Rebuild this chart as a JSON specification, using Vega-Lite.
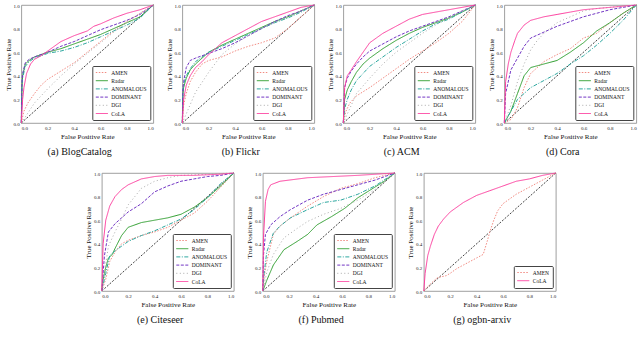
{
"$schema": "https://vega.github.io/schema/vega-lite/v6.json",
"padding": {"left": 3, "top": 2, "right": 0, "bottom": 0},
"datasets": {
"diag": [{"x":0,"y":0},{"x":1,"y":1}],
"a": [
{"m":"AMEN","x":0,"y":0},{"m":"AMEN","x":0.02,"y":0.1},{"m":"AMEN","x":0.05,"y":0.17},{"m":"AMEN","x":0.1,"y":0.25},{"m":"AMEN","x":0.15,"y":0.32},{"m":"AMEN","x":0.2,"y":0.37},{"m":"AMEN","x":0.3,"y":0.44},{"m":"AMEN","x":0.4,"y":0.51},{"m":"AMEN","x":0.5,"y":0.6},{"m":"AMEN","x":0.6,"y":0.69},{"m":"AMEN","x":0.7,"y":0.78},{"m":"AMEN","x":0.8,"y":0.86},{"m":"AMEN","x":0.9,"y":0.93},{"m":"AMEN","x":1,"y":1},
{"m":"Radar","x":0,"y":0},{"m":"Radar","x":0.005,"y":0.3},{"m":"Radar","x":0.01,"y":0.4},{"m":"Radar","x":0.03,"y":0.5},{"m":"Radar","x":0.06,"y":0.53},{"m":"Radar","x":0.1,"y":0.56},{"m":"Radar","x":0.2,"y":0.6},{"m":"Radar","x":0.3,"y":0.63},{"m":"Radar","x":0.4,"y":0.67},{"m":"Radar","x":0.5,"y":0.71},{"m":"Radar","x":0.6,"y":0.75},{"m":"Radar","x":0.7,"y":0.8},{"m":"Radar","x":0.8,"y":0.85},{"m":"Radar","x":0.9,"y":0.9},{"m":"Radar","x":1,"y":1},
{"m":"ANOMALOUS","x":0,"y":0},{"m":"ANOMALOUS","x":0.005,"y":0.3},{"m":"ANOMALOUS","x":0.01,"y":0.38},{"m":"ANOMALOUS","x":0.03,"y":0.48},{"m":"ANOMALOUS","x":0.06,"y":0.52},{"m":"ANOMALOUS","x":0.1,"y":0.55},{"m":"ANOMALOUS","x":0.2,"y":0.59},{"m":"ANOMALOUS","x":0.3,"y":0.61},{"m":"ANOMALOUS","x":0.4,"y":0.64},{"m":"ANOMALOUS","x":0.5,"y":0.68},{"m":"ANOMALOUS","x":0.6,"y":0.73},{"m":"ANOMALOUS","x":0.7,"y":0.78},{"m":"ANOMALOUS","x":0.8,"y":0.83},{"m":"ANOMALOUS","x":0.9,"y":0.89},{"m":"ANOMALOUS","x":1,"y":1},
{"m":"DOMINANT","x":0,"y":0},{"m":"DOMINANT","x":0.005,"y":0.35},{"m":"DOMINANT","x":0.01,"y":0.42},{"m":"DOMINANT","x":0.03,"y":0.51},{"m":"DOMINANT","x":0.06,"y":0.54},{"m":"DOMINANT","x":0.1,"y":0.56},{"m":"DOMINANT","x":0.2,"y":0.6},{"m":"DOMINANT","x":0.3,"y":0.65},{"m":"DOMINANT","x":0.4,"y":0.69},{"m":"DOMINANT","x":0.5,"y":0.74},{"m":"DOMINANT","x":0.6,"y":0.79},{"m":"DOMINANT","x":0.7,"y":0.83},{"m":"DOMINANT","x":0.8,"y":0.87},{"m":"DOMINANT","x":0.9,"y":0.92},{"m":"DOMINANT","x":1,"y":1},
{"m":"DGI","x":0,"y":0},{"m":"DGI","x":0.1,"y":0.17},{"m":"DGI","x":0.2,"y":0.29},{"m":"DGI","x":0.3,"y":0.4},{"m":"DGI","x":0.4,"y":0.5},{"m":"DGI","x":0.5,"y":0.59},{"m":"DGI","x":0.6,"y":0.68},{"m":"DGI","x":0.7,"y":0.77},{"m":"DGI","x":0.8,"y":0.85},{"m":"DGI","x":0.9,"y":0.93},{"m":"DGI","x":1,"y":1},
{"m":"CoLA","x":0,"y":0},{"m":"CoLA","x":0.01,"y":0.2},{"m":"CoLA","x":0.02,"y":0.3},{"m":"CoLA","x":0.04,"y":0.42},{"m":"CoLA","x":0.07,"y":0.5},{"m":"CoLA","x":0.1,"y":0.54},{"m":"CoLA","x":0.15,"y":0.57},{"m":"CoLA","x":0.2,"y":0.61},{"m":"CoLA","x":0.25,"y":0.65},{"m":"CoLA","x":0.3,"y":0.69},{"m":"CoLA","x":0.4,"y":0.74},{"m":"CoLA","x":0.5,"y":0.78},{"m":"CoLA","x":0.55,"y":0.82},{"m":"CoLA","x":0.6,"y":0.84},{"m":"CoLA","x":0.7,"y":0.89},{"m":"CoLA","x":0.8,"y":0.93},{"m":"CoLA","x":0.9,"y":0.96},{"m":"CoLA","x":1,"y":1}
],
"b": [
{"m":"AMEN","x":0,"y":0},{"m":"AMEN","x":0.01,"y":0.15},{"m":"AMEN","x":0.03,"y":0.25},{"m":"AMEN","x":0.06,"y":0.35},{"m":"AMEN","x":0.1,"y":0.43},{"m":"AMEN","x":0.15,"y":0.5},{"m":"AMEN","x":0.2,"y":0.53},{"m":"AMEN","x":0.3,"y":0.56},{"m":"AMEN","x":0.4,"y":0.61},{"m":"AMEN","x":0.5,"y":0.65},{"m":"AMEN","x":0.6,"y":0.68},{"m":"AMEN","x":0.7,"y":0.72},{"m":"AMEN","x":0.8,"y":0.8},{"m":"AMEN","x":0.9,"y":0.9},{"m":"AMEN","x":1,"y":1},
{"m":"Radar","x":0,"y":0},{"m":"Radar","x":0.005,"y":0.25},{"m":"Radar","x":0.01,"y":0.3},{"m":"Radar","x":0.03,"y":0.38},{"m":"Radar","x":0.06,"y":0.45},{"m":"Radar","x":0.1,"y":0.5},{"m":"Radar","x":0.2,"y":0.6},{"m":"Radar","x":0.3,"y":0.66},{"m":"Radar","x":0.4,"y":0.71},{"m":"Radar","x":0.5,"y":0.76},{"m":"Radar","x":0.6,"y":0.81},{"m":"Radar","x":0.7,"y":0.86},{"m":"Radar","x":0.8,"y":0.9},{"m":"Radar","x":0.9,"y":0.95},{"m":"Radar","x":1,"y":1},
{"m":"ANOMALOUS","x":0,"y":0},{"m":"ANOMALOUS","x":0.005,"y":0.28},{"m":"ANOMALOUS","x":0.01,"y":0.33},{"m":"ANOMALOUS","x":0.03,"y":0.4},{"m":"ANOMALOUS","x":0.06,"y":0.46},{"m":"ANOMALOUS","x":0.1,"y":0.52},{"m":"ANOMALOUS","x":0.2,"y":0.6},{"m":"ANOMALOUS","x":0.3,"y":0.65},{"m":"ANOMALOUS","x":0.4,"y":0.7},{"m":"ANOMALOUS","x":0.5,"y":0.75},{"m":"ANOMALOUS","x":0.6,"y":0.8},{"m":"ANOMALOUS","x":0.7,"y":0.85},{"m":"ANOMALOUS","x":0.8,"y":0.89},{"m":"ANOMALOUS","x":0.9,"y":0.94},{"m":"ANOMALOUS","x":1,"y":1},
{"m":"DOMINANT","x":0,"y":0},{"m":"DOMINANT","x":0.005,"y":0.3},{"m":"DOMINANT","x":0.01,"y":0.35},{"m":"DOMINANT","x":0.03,"y":0.47},{"m":"DOMINANT","x":0.06,"y":0.53},{"m":"DOMINANT","x":0.1,"y":0.55},{"m":"DOMINANT","x":0.2,"y":0.59},{"m":"DOMINANT","x":0.3,"y":0.63},{"m":"DOMINANT","x":0.4,"y":0.68},{"m":"DOMINANT","x":0.5,"y":0.74},{"m":"DOMINANT","x":0.6,"y":0.8},{"m":"DOMINANT","x":0.7,"y":0.86},{"m":"DOMINANT","x":0.8,"y":0.91},{"m":"DOMINANT","x":0.9,"y":0.95},{"m":"DOMINANT","x":1,"y":1},
{"m":"DGI","x":0,"y":0},{"m":"DGI","x":0.1,"y":0.26},{"m":"DGI","x":0.2,"y":0.43},{"m":"DGI","x":0.3,"y":0.58},{"m":"DGI","x":0.4,"y":0.67},{"m":"DGI","x":0.5,"y":0.74},{"m":"DGI","x":0.6,"y":0.8},{"m":"DGI","x":0.7,"y":0.85},{"m":"DGI","x":0.8,"y":0.9},{"m":"DGI","x":0.9,"y":0.95},{"m":"DGI","x":1,"y":1},
{"m":"CoLA","x":0,"y":0},{"m":"CoLA","x":0.01,"y":0.2},{"m":"CoLA","x":0.03,"y":0.32},{"m":"CoLA","x":0.06,"y":0.4},{"m":"CoLA","x":0.1,"y":0.47},{"m":"CoLA","x":0.15,"y":0.52},{"m":"CoLA","x":0.2,"y":0.58},{"m":"CoLA","x":0.25,"y":0.63},{"m":"CoLA","x":0.3,"y":0.68},{"m":"CoLA","x":0.4,"y":0.74},{"m":"CoLA","x":0.5,"y":0.8},{"m":"CoLA","x":0.6,"y":0.86},{"m":"CoLA","x":0.7,"y":0.9},{"m":"CoLA","x":0.8,"y":0.94},{"m":"CoLA","x":0.9,"y":0.98},{"m":"CoLA","x":1,"y":1}
],
"c": [
{"m":"AMEN","x":0,"y":0},{"m":"AMEN","x":0.02,"y":0.1},{"m":"AMEN","x":0.05,"y":0.17},{"m":"AMEN","x":0.1,"y":0.23},{"m":"AMEN","x":0.2,"y":0.3},{"m":"AMEN","x":0.3,"y":0.38},{"m":"AMEN","x":0.4,"y":0.46},{"m":"AMEN","x":0.5,"y":0.54},{"m":"AMEN","x":0.6,"y":0.61},{"m":"AMEN","x":0.7,"y":0.68},{"m":"AMEN","x":0.8,"y":0.76},{"m":"AMEN","x":0.9,"y":0.86},{"m":"AMEN","x":1,"y":1},
{"m":"Radar","x":0,"y":0},{"m":"Radar","x":0.01,"y":0.2},{"m":"Radar","x":0.03,"y":0.28},{"m":"Radar","x":0.06,"y":0.35},{"m":"Radar","x":0.1,"y":0.43},{"m":"Radar","x":0.15,"y":0.5},{"m":"Radar","x":0.2,"y":0.55},{"m":"Radar","x":0.3,"y":0.63},{"m":"Radar","x":0.4,"y":0.7},{"m":"Radar","x":0.5,"y":0.76},{"m":"Radar","x":0.6,"y":0.81},{"m":"Radar","x":0.7,"y":0.85},{"m":"Radar","x":0.8,"y":0.89},{"m":"Radar","x":0.9,"y":0.94},{"m":"Radar","x":1,"y":1},
{"m":"ANOMALOUS","x":0,"y":0},{"m":"ANOMALOUS","x":0.01,"y":0.12},{"m":"ANOMALOUS","x":0.03,"y":0.2},{"m":"ANOMALOUS","x":0.06,"y":0.28},{"m":"ANOMALOUS","x":0.1,"y":0.36},{"m":"ANOMALOUS","x":0.15,"y":0.42},{"m":"ANOMALOUS","x":0.2,"y":0.48},{"m":"ANOMALOUS","x":0.3,"y":0.56},{"m":"ANOMALOUS","x":0.4,"y":0.64},{"m":"ANOMALOUS","x":0.5,"y":0.71},{"m":"ANOMALOUS","x":0.6,"y":0.78},{"m":"ANOMALOUS","x":0.7,"y":0.84},{"m":"ANOMALOUS","x":0.8,"y":0.88},{"m":"ANOMALOUS","x":0.9,"y":0.94},{"m":"ANOMALOUS","x":1,"y":1},
{"m":"DOMINANT","x":0,"y":0},{"m":"DOMINANT","x":0.01,"y":0.3},{"m":"DOMINANT","x":0.03,"y":0.38},{"m":"DOMINANT","x":0.06,"y":0.44},{"m":"DOMINANT","x":0.1,"y":0.5},{"m":"DOMINANT","x":0.15,"y":0.56},{"m":"DOMINANT","x":0.2,"y":0.61},{"m":"DOMINANT","x":0.3,"y":0.67},{"m":"DOMINANT","x":0.4,"y":0.73},{"m":"DOMINANT","x":0.5,"y":0.78},{"m":"DOMINANT","x":0.6,"y":0.82},{"m":"DOMINANT","x":0.7,"y":0.86},{"m":"DOMINANT","x":0.8,"y":0.9},{"m":"DOMINANT","x":0.9,"y":0.95},{"m":"DOMINANT","x":1,"y":1},
{"m":"DGI","x":0,"y":0},{"m":"DGI","x":0.1,"y":0.25},{"m":"DGI","x":0.2,"y":0.38},{"m":"DGI","x":0.3,"y":0.5},{"m":"DGI","x":0.4,"y":0.6},{"m":"DGI","x":0.5,"y":0.68},{"m":"DGI","x":0.6,"y":0.76},{"m":"DGI","x":0.7,"y":0.83},{"m":"DGI","x":0.8,"y":0.89},{"m":"DGI","x":0.9,"y":0.95},{"m":"DGI","x":1,"y":1},
{"m":"CoLA","x":0,"y":0},{"m":"CoLA","x":0.01,"y":0.3},{"m":"CoLA","x":0.03,"y":0.4},{"m":"CoLA","x":0.06,"y":0.45},{"m":"CoLA","x":0.1,"y":0.52},{"m":"CoLA","x":0.15,"y":0.6},{"m":"CoLA","x":0.2,"y":0.68},{"m":"CoLA","x":0.25,"y":0.72},{"m":"CoLA","x":0.3,"y":0.76},{"m":"CoLA","x":0.4,"y":0.82},{"m":"CoLA","x":0.5,"y":0.88},{"m":"CoLA","x":0.6,"y":0.92},{"m":"CoLA","x":0.7,"y":0.94},{"m":"CoLA","x":0.8,"y":0.96},{"m":"CoLA","x":0.9,"y":0.98},{"m":"CoLA","x":1,"y":1}
],
"d": [
{"m":"AMEN","x":0,"y":0},{"m":"AMEN","x":0.05,"y":0.03},{"m":"AMEN","x":0.1,"y":0.13},{"m":"AMEN","x":0.15,"y":0.3},{"m":"AMEN","x":0.2,"y":0.42},{"m":"AMEN","x":0.3,"y":0.52},{"m":"AMEN","x":0.4,"y":0.58},{"m":"AMEN","x":0.5,"y":0.63},{"m":"AMEN","x":0.6,"y":0.72},{"m":"AMEN","x":0.7,"y":0.76},{"m":"AMEN","x":0.8,"y":0.85},{"m":"AMEN","x":0.9,"y":0.93},{"m":"AMEN","x":1,"y":1},
{"m":"Radar","x":0,"y":0},{"m":"Radar","x":0.05,"y":0.1},{"m":"Radar","x":0.1,"y":0.25},{"m":"Radar","x":0.15,"y":0.4},{"m":"Radar","x":0.2,"y":0.47},{"m":"Radar","x":0.3,"y":0.5},{"m":"Radar","x":0.4,"y":0.53},{"m":"Radar","x":0.5,"y":0.6},{"m":"Radar","x":0.6,"y":0.68},{"m":"Radar","x":0.7,"y":0.78},{"m":"Radar","x":0.8,"y":0.85},{"m":"Radar","x":0.9,"y":0.93},{"m":"Radar","x":1,"y":1},
{"m":"ANOMALOUS","x":0,"y":0},{"m":"ANOMALOUS","x":0.05,"y":0.1},{"m":"ANOMALOUS","x":0.1,"y":0.2},{"m":"ANOMALOUS","x":0.2,"y":0.3},{"m":"ANOMALOUS","x":0.3,"y":0.36},{"m":"ANOMALOUS","x":0.4,"y":0.42},{"m":"ANOMALOUS","x":0.5,"y":0.5},{"m":"ANOMALOUS","x":0.6,"y":0.57},{"m":"ANOMALOUS","x":0.7,"y":0.66},{"m":"ANOMALOUS","x":0.8,"y":0.76},{"m":"ANOMALOUS","x":0.9,"y":0.87},{"m":"ANOMALOUS","x":1,"y":1},
{"m":"DOMINANT","x":0,"y":0},{"m":"DOMINANT","x":0.01,"y":0.25},{"m":"DOMINANT","x":0.05,"y":0.45},{"m":"DOMINANT","x":0.1,"y":0.55},{"m":"DOMINANT","x":0.15,"y":0.65},{"m":"DOMINANT","x":0.2,"y":0.72},{"m":"DOMINANT","x":0.3,"y":0.77},{"m":"DOMINANT","x":0.4,"y":0.82},{"m":"DOMINANT","x":0.5,"y":0.86},{"m":"DOMINANT","x":0.6,"y":0.9},{"m":"DOMINANT","x":0.7,"y":0.93},{"m":"DOMINANT","x":0.8,"y":0.96},{"m":"DOMINANT","x":0.9,"y":0.98},{"m":"DOMINANT","x":1,"y":1},
{"m":"DGI","x":0,"y":0},{"m":"DGI","x":0.05,"y":0.15},{"m":"DGI","x":0.1,"y":0.35},{"m":"DGI","x":0.15,"y":0.5},{"m":"DGI","x":0.2,"y":0.62},{"m":"DGI","x":0.25,"y":0.7},{"m":"DGI","x":0.3,"y":0.76},{"m":"DGI","x":0.4,"y":0.85},{"m":"DGI","x":0.5,"y":0.9},{"m":"DGI","x":0.6,"y":0.95},{"m":"DGI","x":0.7,"y":0.97},{"m":"DGI","x":0.8,"y":0.98},{"m":"DGI","x":1,"y":1},
{"m":"CoLA","x":0,"y":0},{"m":"CoLA","x":0.01,"y":0.35},{"m":"CoLA","x":0.03,"y":0.5},{"m":"CoLA","x":0.05,"y":0.6},{"m":"CoLA","x":0.08,"y":0.7},{"m":"CoLA","x":0.1,"y":0.76},{"m":"CoLA","x":0.15,"y":0.83},{"m":"CoLA","x":0.2,"y":0.87},{"m":"CoLA","x":0.3,"y":0.9},{"m":"CoLA","x":0.4,"y":0.92},{"m":"CoLA","x":0.5,"y":0.94},{"m":"CoLA","x":0.6,"y":0.96},{"m":"CoLA","x":0.7,"y":0.97},{"m":"CoLA","x":0.8,"y":0.98},{"m":"CoLA","x":0.9,"y":0.99},{"m":"CoLA","x":1,"y":1}
],
"e": [
{"m":"AMEN","x":0,"y":0},{"m":"AMEN","x":0.03,"y":0.1},{"m":"AMEN","x":0.06,"y":0.25},{"m":"AMEN","x":0.1,"y":0.33},{"m":"AMEN","x":0.15,"y":0.4},{"m":"AMEN","x":0.2,"y":0.43},{"m":"AMEN","x":0.3,"y":0.47},{"m":"AMEN","x":0.4,"y":0.5},{"m":"AMEN","x":0.5,"y":0.54},{"m":"AMEN","x":0.6,"y":0.6},{"m":"AMEN","x":0.7,"y":0.66},{"m":"AMEN","x":0.8,"y":0.76},{"m":"AMEN","x":0.9,"y":0.88},{"m":"AMEN","x":1,"y":1},
{"m":"Radar","x":0,"y":0},{"m":"Radar","x":0.01,"y":0.1},{"m":"Radar","x":0.03,"y":0.2},{"m":"Radar","x":0.05,"y":0.28},{"m":"Radar","x":0.08,"y":0.31},{"m":"Radar","x":0.1,"y":0.36},{"m":"Radar","x":0.15,"y":0.47},{"m":"Radar","x":0.2,"y":0.54},{"m":"Radar","x":0.3,"y":0.58},{"m":"Radar","x":0.4,"y":0.6},{"m":"Radar","x":0.5,"y":0.62},{"m":"Radar","x":0.6,"y":0.65},{"m":"Radar","x":0.7,"y":0.71},{"m":"Radar","x":0.8,"y":0.79},{"m":"Radar","x":0.9,"y":0.89},{"m":"Radar","x":1,"y":1},
{"m":"ANOMALOUS","x":0,"y":0},{"m":"ANOMALOUS","x":0.03,"y":0.15},{"m":"ANOMALOUS","x":0.06,"y":0.3},{"m":"ANOMALOUS","x":0.1,"y":0.34},{"m":"ANOMALOUS","x":0.15,"y":0.38},{"m":"ANOMALOUS","x":0.2,"y":0.42},{"m":"ANOMALOUS","x":0.3,"y":0.47},{"m":"ANOMALOUS","x":0.4,"y":0.51},{"m":"ANOMALOUS","x":0.5,"y":0.56},{"m":"ANOMALOUS","x":0.6,"y":0.61},{"m":"ANOMALOUS","x":0.7,"y":0.69},{"m":"ANOMALOUS","x":0.8,"y":0.79},{"m":"ANOMALOUS","x":0.9,"y":0.91},{"m":"ANOMALOUS","x":1,"y":1},
{"m":"DOMINANT","x":0,"y":0},{"m":"DOMINANT","x":0.02,"y":0.3},{"m":"DOMINANT","x":0.05,"y":0.5},{"m":"DOMINANT","x":0.1,"y":0.57},{"m":"DOMINANT","x":0.15,"y":0.62},{"m":"DOMINANT","x":0.2,"y":0.67},{"m":"DOMINANT","x":0.3,"y":0.74},{"m":"DOMINANT","x":0.4,"y":0.84},{"m":"DOMINANT","x":0.5,"y":0.89},{"m":"DOMINANT","x":0.6,"y":0.93},{"m":"DOMINANT","x":0.7,"y":0.95},{"m":"DOMINANT","x":0.8,"y":0.97},{"m":"DOMINANT","x":0.9,"y":0.98},{"m":"DOMINANT","x":1,"y":1},
{"m":"DGI","x":0,"y":0},{"m":"DGI","x":0.05,"y":0.38},{"m":"DGI","x":0.1,"y":0.5},{"m":"DGI","x":0.15,"y":0.61},{"m":"DGI","x":0.2,"y":0.73},{"m":"DGI","x":0.25,"y":0.8},{"m":"DGI","x":0.3,"y":0.87},{"m":"DGI","x":0.4,"y":0.93},{"m":"DGI","x":0.5,"y":0.96},{"m":"DGI","x":0.6,"y":0.98},{"m":"DGI","x":0.8,"y":0.99},{"m":"DGI","x":1,"y":1},
{"m":"CoLA","x":0,"y":0},{"m":"CoLA","x":0.01,"y":0.4},{"m":"CoLA","x":0.03,"y":0.6},{"m":"CoLA","x":0.06,"y":0.72},{"m":"CoLA","x":0.1,"y":0.8},{"m":"CoLA","x":0.15,"y":0.86},{"m":"CoLA","x":0.2,"y":0.9},{"m":"CoLA","x":0.3,"y":0.95},{"m":"CoLA","x":0.4,"y":0.97},{"m":"CoLA","x":0.5,"y":0.98},{"m":"CoLA","x":0.7,"y":0.98},{"m":"CoLA","x":0.9,"y":0.99},{"m":"CoLA","x":1,"y":1}
],
"f": [
{"m":"AMEN","x":0,"y":0},{"m":"AMEN","x":0.01,"y":0.12},{"m":"AMEN","x":0.03,"y":0.25},{"m":"AMEN","x":0.08,"y":0.48},{"m":"AMEN","x":0.13,"y":0.55},{"m":"AMEN","x":0.21,"y":0.62},{"m":"AMEN","x":0.34,"y":0.72},{"m":"AMEN","x":0.46,"y":0.8},{"m":"AMEN","x":0.59,"y":0.87},{"m":"AMEN","x":0.72,"y":0.91},{"m":"AMEN","x":0.85,"y":0.96},{"m":"AMEN","x":1,"y":1},
{"m":"Radar","x":0,"y":0},{"m":"Radar","x":0.03,"y":0.09},{"m":"Radar","x":0.08,"y":0.22},{"m":"Radar","x":0.16,"y":0.35},{"m":"Radar","x":0.26,"y":0.42},{"m":"Radar","x":0.34,"y":0.48},{"m":"Radar","x":0.41,"y":0.56},{"m":"Radar","x":0.52,"y":0.63},{"m":"Radar","x":0.62,"y":0.7},{"m":"Radar","x":0.72,"y":0.79},{"m":"Radar","x":0.82,"y":0.86},{"m":"Radar","x":0.92,"y":0.93},{"m":"Radar","x":1,"y":1},
{"m":"ANOMALOUS","x":0,"y":0},{"m":"ANOMALOUS","x":0.01,"y":0.15},{"m":"ANOMALOUS","x":0.03,"y":0.33},{"m":"ANOMALOUS","x":0.08,"y":0.49},{"m":"ANOMALOUS","x":0.13,"y":0.55},{"m":"ANOMALOUS","x":0.21,"y":0.62},{"m":"ANOMALOUS","x":0.34,"y":0.69},{"m":"ANOMALOUS","x":0.46,"y":0.75},{"m":"ANOMALOUS","x":0.59,"y":0.77},{"m":"ANOMALOUS","x":0.72,"y":0.82},{"m":"ANOMALOUS","x":0.85,"y":0.89},{"m":"ANOMALOUS","x":1,"y":1},
{"m":"DOMINANT","x":0,"y":0},{"m":"DOMINANT","x":0.005,"y":0.3},{"m":"DOMINANT","x":0.02,"y":0.48},{"m":"DOMINANT","x":0.06,"y":0.56},{"m":"DOMINANT","x":0.13,"y":0.63},{"m":"DOMINANT","x":0.21,"y":0.69},{"m":"DOMINANT","x":0.34,"y":0.77},{"m":"DOMINANT","x":0.46,"y":0.82},{"m":"DOMINANT","x":0.59,"y":0.86},{"m":"DOMINANT","x":0.72,"y":0.9},{"m":"DOMINANT","x":0.85,"y":0.94},{"m":"DOMINANT","x":1,"y":1},
{"m":"DGI","x":0,"y":0},{"m":"DGI","x":0.03,"y":0.16},{"m":"DGI","x":0.08,"y":0.31},{"m":"DGI","x":0.16,"y":0.45},{"m":"DGI","x":0.26,"y":0.53},{"m":"DGI","x":0.34,"y":0.59},{"m":"DGI","x":0.46,"y":0.65},{"m":"DGI","x":0.59,"y":0.7},{"m":"DGI","x":0.72,"y":0.77},{"m":"DGI","x":0.85,"y":0.86},{"m":"DGI","x":1,"y":1},
{"m":"CoLA","x":0,"y":0},{"m":"CoLA","x":0.005,"y":0.45},{"m":"CoLA","x":0.02,"y":0.76},{"m":"CoLA","x":0.04,"y":0.86},{"m":"CoLA","x":0.06,"y":0.9},{"m":"CoLA","x":0.13,"y":0.93},{"m":"CoLA","x":0.34,"y":0.96},{"m":"CoLA","x":0.72,"y":0.98},{"m":"CoLA","x":1,"y":1}
],
"g": [
{"m":"AMEN","x":0,"y":0},{"m":"AMEN","x":0.05,"y":0.06},{"m":"AMEN","x":0.1,"y":0.11},{"m":"AMEN","x":0.13,"y":0.12},{"m":"AMEN","x":0.17,"y":0.13},{"m":"AMEN","x":0.2,"y":0.15},{"m":"AMEN","x":0.25,"y":0.19},{"m":"AMEN","x":0.3,"y":0.22},{"m":"AMEN","x":0.35,"y":0.25},{"m":"AMEN","x":0.4,"y":0.28},{"m":"AMEN","x":0.45,"y":0.31},{"m":"AMEN","x":0.48,"y":0.42},{"m":"AMEN","x":0.5,"y":0.5},{"m":"AMEN","x":0.53,"y":0.6},{"m":"AMEN","x":0.56,"y":0.68},{"m":"AMEN","x":0.6,"y":0.74},{"m":"AMEN","x":0.7,"y":0.82},{"m":"AMEN","x":0.8,"y":0.88},{"m":"AMEN","x":0.9,"y":0.94},{"m":"AMEN","x":1,"y":1},
{"m":"CoLA","x":0,"y":0},{"m":"CoLA","x":0.01,"y":0.15},{"m":"CoLA","x":0.03,"y":0.3},{"m":"CoLA","x":0.05,"y":0.38},{"m":"CoLA","x":0.08,"y":0.48},{"m":"CoLA","x":0.11,"y":0.55},{"m":"CoLA","x":0.15,"y":0.61},{"m":"CoLA","x":0.2,"y":0.67},{"m":"CoLA","x":0.3,"y":0.75},{"m":"CoLA","x":0.4,"y":0.81},{"m":"CoLA","x":0.5,"y":0.85},{"m":"CoLA","x":0.6,"y":0.89},{"m":"CoLA","x":0.7,"y":0.93},{"m":"CoLA","x":0.8,"y":0.95},{"m":"CoLA","x":0.9,"y":0.98},{"m":"CoLA","x":1,"y":1}
]
},
"vconcat": [
{"hconcat": [
{"width":132,"height":118,"title":{"text":"(a) BlogCatalog","font":"Liberation Serif","fontWeight":"normal","fontSize":10},
 "encoding":{"x":{"field":"x","type":"quantitative","scale":{"domain":[0,1],"nice":false},"axis":{"values":[0,0.2,0.4,0.6,0.8,1],"format":".1f","title":"False Positive Rate"}},"y":{"field":"y","type":"quantitative","scale":{"domain":[0,1],"nice":false},"axis":{"values":[0,0.2,0.4,0.6,0.8,1],"format":".1f","title":"True Positive Rate"}}},
 "layer":[
  {"data":{"name":"diag"},"mark":{"type":"line","color":"#111","strokeDash":[2,1.5],"strokeWidth":0.8}},
  {"data":{"name":"a"},"mark":{"type":"line","strokeWidth":1},"encoding":{"color":{"field":"m","type":"nominal","title":null,"scale":{"domain":["AMEN","Radar","ANOMALOUS","DOMINANT","DGI","CoLA"],"range":["#f28b82","#2e9e2e","#2ea8a0","#7236c4","#aaaaaa","#fd3f9f"]}},"strokeDash":{"field":"m","type":"nominal","title":null,"scale":{"domain":["AMEN","Radar","ANOMALOUS","DOMINANT","DGI","CoLA"],"range":[[1.5,1.5],[1,0],[4,1.5,1,1.5],[3,1.5],[1,2.5],[1,0]]}}}}
 ]},
{"width":132,"height":118,"title":{"text":"(b) Flickr","font":"Liberation Serif","fontWeight":"normal","fontSize":10},
 "encoding":{"x":{"field":"x","type":"quantitative","scale":{"domain":[0,1],"nice":false},"axis":{"values":[0,0.2,0.4,0.6,0.8,1],"format":".1f","title":"False Positive Rate"}},"y":{"field":"y","type":"quantitative","scale":{"domain":[0,1],"nice":false},"axis":{"values":[0,0.2,0.4,0.6,0.8,1],"format":".1f","title":"True Positive Rate"}}},
 "layer":[
  {"data":{"name":"diag"},"mark":{"type":"line","color":"#111","strokeDash":[2,1.5],"strokeWidth":0.8}},
  {"data":{"name":"b"},"mark":{"type":"line","strokeWidth":1},"encoding":{"color":{"field":"m","type":"nominal","title":null,"scale":{"domain":["AMEN","Radar","ANOMALOUS","DOMINANT","DGI","CoLA"],"range":["#f28b82","#2e9e2e","#2ea8a0","#7236c4","#aaaaaa","#fd3f9f"]}},"strokeDash":{"field":"m","type":"nominal","title":null,"scale":{"domain":["AMEN","Radar","ANOMALOUS","DOMINANT","DGI","CoLA"],"range":[[1.5,1.5],[1,0],[4,1.5,1,1.5],[3,1.5],[1,2.5],[1,0]]}}}}
 ]},
{"width":132,"height":118,"title":{"text":"(c) ACM","font":"Liberation Serif","fontWeight":"normal","fontSize":10},
 "encoding":{"x":{"field":"x","type":"quantitative","scale":{"domain":[0,1],"nice":false},"axis":{"values":[0,0.2,0.4,0.6,0.8,1],"format":".1f","title":"False Positive Rate"}},"y":{"field":"y","type":"quantitative","scale":{"domain":[0,1],"nice":false},"axis":{"values":[0,0.2,0.4,0.6,0.8,1],"format":".1f","title":"True Positive Rate"}}},
 "layer":[
  {"data":{"name":"diag"},"mark":{"type":"line","color":"#111","strokeDash":[2,1.5],"strokeWidth":0.8}},
  {"data":{"name":"c"},"mark":{"type":"line","strokeWidth":1},"encoding":{"color":{"field":"m","type":"nominal","title":null,"scale":{"domain":["AMEN","Radar","ANOMALOUS","DOMINANT","DGI","CoLA"],"range":["#f28b82","#2e9e2e","#2ea8a0","#7236c4","#aaaaaa","#fd3f9f"]}},"strokeDash":{"field":"m","type":"nominal","title":null,"scale":{"domain":["AMEN","Radar","ANOMALOUS","DOMINANT","DGI","CoLA"],"range":[[1.5,1.5],[1,0],[4,1.5,1,1.5],[3,1.5],[1,2.5],[1,0]]}}}}
 ]},
{"width":132,"height":118,"title":{"text":"(d) Cora","font":"Liberation Serif","fontWeight":"normal","fontSize":10},
 "encoding":{"x":{"field":"x","type":"quantitative","scale":{"domain":[0,1],"nice":false},"axis":{"values":[0,0.2,0.4,0.6,0.8,1],"format":".1f","title":"False Positive Rate"}},"y":{"field":"y","type":"quantitative","scale":{"domain":[0,1],"nice":false},"axis":{"values":[0,0.2,0.4,0.6,0.8,1],"format":".1f","title":"True Positive Rate"}}},
 "layer":[
  {"data":{"name":"diag"},"mark":{"type":"line","color":"#111","strokeDash":[2,1.5],"strokeWidth":0.8}},
  {"data":{"name":"d"},"mark":{"type":"line","strokeWidth":1},"encoding":{"color":{"field":"m","type":"nominal","title":null,"scale":{"domain":["AMEN","Radar","ANOMALOUS","DOMINANT","DGI","CoLA"],"range":["#f28b82","#2e9e2e","#2ea8a0","#7236c4","#aaaaaa","#fd3f9f"]}},"strokeDash":{"field":"m","type":"nominal","title":null,"scale":{"domain":["AMEN","Radar","ANOMALOUS","DOMINANT","DGI","CoLA"],"range":[[1.5,1.5],[1,0],[4,1.5,1,1.5],[3,1.5],[1,2.5],[1,0]]}}}}
 ]}
], "spacing": 8, "resolve": {"scale": {"color":"independent","strokeDash":"independent"}, "legend": {"color":"independent","strokeDash":"independent"}}},
{"hconcat": [
{"width":132,"height":118,"title":{"text":"(e) Citeseer","font":"Liberation Serif","fontWeight":"normal","fontSize":10},
 "encoding":{"x":{"field":"x","type":"quantitative","scale":{"domain":[0,1],"nice":false},"axis":{"values":[0,0.2,0.4,0.6,0.8,1],"format":".1f","title":"False Positive Rate"}},"y":{"field":"y","type":"quantitative","scale":{"domain":[0,1],"nice":false},"axis":{"values":[0,0.2,0.4,0.6,0.8,1],"format":".1f","title":"True Positive Rate"}}},
 "layer":[
  {"data":{"name":"diag"},"mark":{"type":"line","color":"#111","strokeDash":[2,1.5],"strokeWidth":0.8}},
  {"data":{"name":"e"},"mark":{"type":"line","strokeWidth":1},"encoding":{"color":{"field":"m","type":"nominal","title":null,"scale":{"domain":["AMEN","Radar","ANOMALOUS","DOMINANT","DGI","CoLA"],"range":["#f28b82","#2e9e2e","#2ea8a0","#7236c4","#aaaaaa","#fd3f9f"]}},"strokeDash":{"field":"m","type":"nominal","title":null,"scale":{"domain":["AMEN","Radar","ANOMALOUS","DOMINANT","DGI","CoLA"],"range":[[1.5,1.5],[1,0],[4,1.5,1,1.5],[3,1.5],[1,2.5],[1,0]]}}}}
 ]},
{"width":132,"height":118,"title":{"text":"(f) Pubmed","font":"Liberation Serif","fontWeight":"normal","fontSize":10},
 "encoding":{"x":{"field":"x","type":"quantitative","scale":{"domain":[0,1],"nice":false},"axis":{"values":[0,0.2,0.4,0.6,0.8,1],"format":".1f","title":"False Positive Rate"}},"y":{"field":"y","type":"quantitative","scale":{"domain":[0,1],"nice":false},"axis":{"values":[0,0.2,0.4,0.6,0.8,1],"format":".1f","title":"True Positive Rate"}}},
 "layer":[
  {"data":{"name":"diag"},"mark":{"type":"line","color":"#111","strokeDash":[2,1.5],"strokeWidth":0.8}},
  {"data":{"name":"f"},"mark":{"type":"line","strokeWidth":1},"encoding":{"color":{"field":"m","type":"nominal","title":null,"scale":{"domain":["AMEN","Radar","ANOMALOUS","DOMINANT","DGI","CoLA"],"range":["#f28b82","#2e9e2e","#2ea8a0","#7236c4","#aaaaaa","#fd3f9f"]}},"strokeDash":{"field":"m","type":"nominal","title":null,"scale":{"domain":["AMEN","Radar","ANOMALOUS","DOMINANT","DGI","CoLA"],"range":[[1.5,1.5],[1,0],[4,1.5,1,1.5],[3,1.5],[1,2.5],[1,0]]}}}}
 ]},
{"width":132,"height":118,"title":{"text":"(g) ogbn-arxiv","font":"Liberation Serif","fontWeight":"normal","fontSize":10},
 "encoding":{"x":{"field":"x","type":"quantitative","scale":{"domain":[0,1],"nice":false},"axis":{"values":[0,0.2,0.4,0.6,0.8,1],"format":".1f","title":"False Positive Rate"}},"y":{"field":"y","type":"quantitative","scale":{"domain":[0,1],"nice":false},"axis":{"values":[0,0.2,0.4,0.6,0.8,1],"format":".1f","title":"True Positive Rate"}}},
 "layer":[
  {"data":{"name":"diag"},"mark":{"type":"line","color":"#111","strokeDash":[2,1.5],"strokeWidth":0.8}},
  {"data":{"name":"g"},"mark":{"type":"line","strokeWidth":1},"encoding":{"color":{"field":"m","type":"nominal","title":null,"scale":{"domain":["AMEN","CoLA"],"range":["#f28b82","#fd3f9f"]}},"strokeDash":{"field":"m","type":"nominal","title":null,"scale":{"domain":["AMEN","CoLA"],"range":[[1.5,1.5],[1,0]]}}}}
 ]}
], "spacing": 8, "resolve": {"scale": {"color":"independent","strokeDash":"independent"}, "legend": {"color":"independent","strokeDash":"independent"}}}
],
"spacing": 12,
"center": true,
"resolve": {"scale": {"color":"independent","strokeDash":"independent"}, "legend": {"color":"independent","strokeDash":"independent"}},
"config": {
 "font": "Liberation Serif",
 "view": {"stroke": "#888", "strokeWidth": 0.8},
 "axis": {"grid": false, "domain": false, "ticks": false, "labelFontSize": 5, "titleFontSize": 7, "titleFontWeight": "normal", "labelPadding": 2, "titlePadding": 2, "labelColor": "#222", "titleColor": "#111", "labelFont": "Liberation Serif", "titleFont": "Liberation Serif"},
 "legend": {"orient": "bottom-right", "offset": 3, "strokeColor": "#444", "fillColor": "white", "padding": 3, "labelFontSize": 5.5, "labelFont": "Liberation Serif", "labelColor": "#111", "symbolType": "M-1,0H3", "symbolSize": 36, "symbolStrokeWidth": 1, "rowPadding": 1.2, "labelOffset": 9, "cornerRadius": 1},
 "title": {"orient": "bottom", "frame": "bounds", "anchor": "middle", "fontSize": 10, "fontWeight": "normal", "font": "Liberation Serif", "color": "#111", "offset": 8}
}
}
